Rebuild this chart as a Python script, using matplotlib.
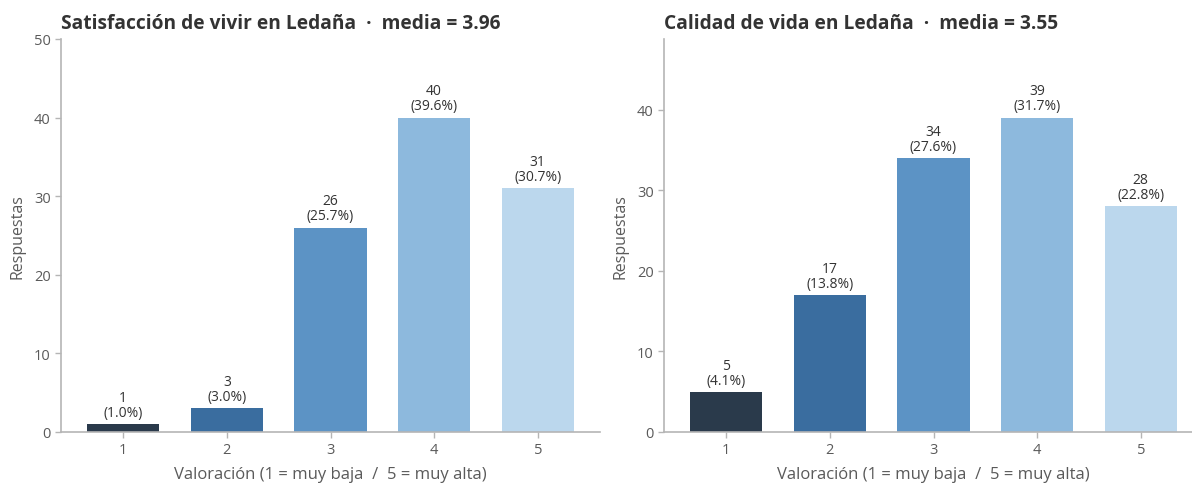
import numpy as np
import matplotlib
matplotlib.use("Agg")
import matplotlib.pyplot as plt

plt.rcParams['font.family'] = ['Open Sans', 'DejaVu Sans']

# Datos de la encuesta
valoraciones = [1, 2, 3, 4, 5]
satisfaccion = [1, 3, 26, 40, 31]
calidad = [5, 17, 34, 39, 28]
media_satisfaccion = 3.96
media_calidad = 3.55

titulos = ["Satisfacción de vivir en Ledaña", "Calidad de vida en Ledaña"]
colores = ["#2a3a4b", "#3a6d9f", "#5c93c5", "#8db9dd", "#bbd7ed"]
texto = "#333333"
gris = "#5a5a5a"

fig = plt.figure(figsize=(11.92, 4.85), dpi=100)
ax1 = fig.add_axes([61 / 1192, 52 / 485, 539 / 1192, 393 / 485])
ax2 = fig.add_axes([664 / 1192, 52 / 485, 539 / 1192, 393 / 485])


def dibujar(ax, cuentas, titulo, media):
    total = sum(cuentas)
    ax.bar(valoraciones, cuentas, width=0.7, color=colores, zorder=2)
    for x, c in zip(valoraciones, cuentas):
        ax.annotate(f"{c}\n({c / total * 100:.1f}%)", (x, c),
                    xytext=(0, 3), textcoords="offset points",
                    ha="center", va="bottom", fontsize=10, color=texto,
                    linespacing=1.0)
    ax.set_xlim(0.4, 5.6)
    ax.set_ylim(0, max(cuentas) * 1.25)
    ax.set_xticks(valoraciones)
    ax.set_yticks(np.arange(0, max(cuentas) * 1.25 + 0.1, 10))
    for s in ["top", "right"]:
        ax.spines[s].set_visible(False)
    for s in ["left", "bottom"]:
        ax.spines[s].set_color("#b5b5b5")
        ax.spines[s].set_linewidth(1.2)
    ax.tick_params(colors="#b5b5b5", labelcolor=gris, labelsize=10.5,
                   length=4, width=1)
    ax.set_xlabel("Valoración (1 = muy baja  /  5 = muy alta)",
                  fontsize=12, color=gris, labelpad=6)
    ax.set_ylabel("Respuestas", fontsize=11.5, color=gris, labelpad=6)
    ax.set_title(f"{titulo}  ·  media = {media:.2f}", loc="left",
                 fontsize=13.8, fontweight="bold", color=texto, pad=8)


dibujar(ax1, satisfaccion, titulos[0], media_satisfaccion)
dibujar(ax2, calidad, titulos[1], media_calidad)

fig.savefig("out.png", dpi=100)
